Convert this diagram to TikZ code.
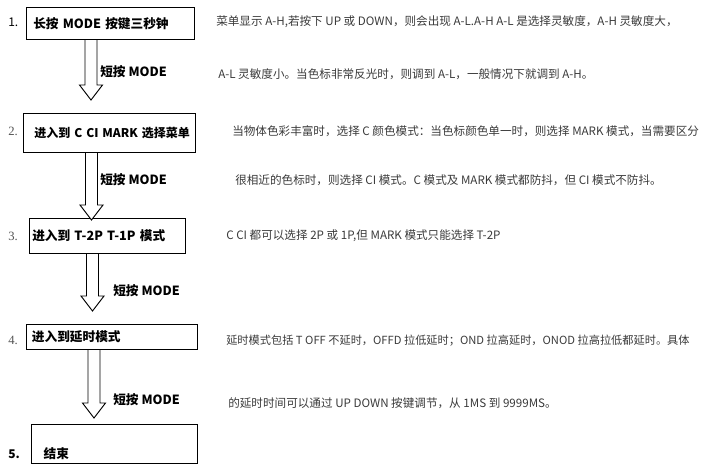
\documentclass[tikz,border=0pt]{standalone}
\usepackage{fontspec}
\setmainfont{Noto Sans CJK SC}
\newfontfamily\numserif{Liberation Serif}
\usetikzlibrary{calc}

\definecolor{NoteGray}{HTML}{3a3a3a}
\definecolor{NumGray}{HTML}{555555}
\tikzstyle{step-box}=[draw, line width=0.9pt, anchor=north west, inner ysep=2pt, align=left, font=\fontsize{9.5pt}{11pt}\selectfont\bfseries]
\tikzstyle{step-num}=[anchor=west, inner sep=0pt, font=\fontsize{9pt}{10pt}\selectfont]
\tikzstyle{step-num-serif}=[anchor=west, inner sep=0pt, text=NumGray, font=\fontsize{9.5pt}{10pt}\selectfont\numserif]
\tikzstyle{press-label}=[anchor=west, inner sep=0pt, font=\fontsize{9.5pt}{11pt}\selectfont\bfseries]
\tikzstyle{step-note}=[anchor=west, inner sep=0pt, text=NoteGray, font=\fontsize{8.7pt}{10pt}\selectfont]
\tikzstyle{hollow-arrow}=[draw, line width=0.7pt, fill=white]

% hollow block arrow from a box edge (#1) down to a tip (#2)
\newcommand{\pressarrow}[2]{%
  \draw[hollow-arrow] ($(#1)+(-6,0)$) -- ($(#2)+(-6,-15)$) -- ($(#2)+(-11.5,-15)$) -- (#2)
    -- ($(#2)+(11.5,-15)$) -- ($(#2)+(6,-15)$) -- ($(#1)+(6,0)$);}

\begin{document}
\begin{tikzpicture}[x=0.75pt, y=-0.75pt]
  \useasboundingbox (0,0) rectangle (704,472);

  % steps
  \node (box-hold) at (26,7)
        [step-box, minimum height=24pt, inner xsep=5pt, text width=116pt] {\mbox{长按 MODE 按键三秒钟}};
  \node (box-menu) at (23,113)
        [step-box, minimum height=29.25pt, inner xsep=8pt, text width=113pt,
         font=\fontsize{9pt}{11pt}\selectfont\bfseries] {\mbox{进入到 C CI MARK 选择菜单}};
  \node (box-tmode) at (29,218)
        [step-box, minimum height=26.25pt, inner xsep=2pt, text width=113pt] {\mbox{进入到 T-2P T-1P 模式}};
  \node (box-delay) at (26,324)
        [step-box, minimum height=18.75pt, inner xsep=4pt, text width=120.25pt] {\mbox{进入到延时模式}};
  \node (box-end) at (31,424)
        [step-box, minimum height=29.25pt, inner xsep=9pt, text width=106.5pt, text height=22pt] {结束};

  % step numbers
  \node (num-1) at (8,22)  [step-num] {1.};
  \node (num-2) at (8,131) [step-num-serif] {2.};
  \node (num-3) at (8,236) [step-num-serif] {3.};
  \node (num-4) at (8,340) [step-num-serif] {4.};
  \node (num-5) at (8,454) [step-num, font=\fontsize{9pt}{10pt}\selectfont\bfseries] {5.};

  % arrows
  \coordinate (tip-1) at (91,100);
  \coordinate (tip-2) at (91.5,220);
  \coordinate (tip-3) at (92.5,311);
  \coordinate (tip-4) at (94,418);
  \coordinate (from-1) at (box-hold.south -| tip-1);
  \coordinate (from-2) at (box-menu.south -| tip-2);
  \coordinate (from-3) at (box-tmode.south -| tip-3);
  \coordinate (from-4) at (box-delay.south -| tip-4);
  \pressarrow{from-1}{tip-1}
  \pressarrow{from-2}{tip-2}
  \pressarrow{from-3}{tip-3}
  \pressarrow{from-4}{tip-4}

  \node (press-1) at (100,72)  [press-label] {短按 MODE};
  \node (press-2) at (100,180) [press-label] {短按 MODE};
  \node (press-3) at (113,291) [press-label] {短按 MODE};
  \node (press-4) at (113,400) [press-label] {短按 MODE};

  % notes
  \node (note-hold-a) at (216,22)   [step-note] {菜单显示 A-H,若按下 UP 或 DOWN，则会出现 A-L.A-H A-L 是选择灵敏度，A-H 灵敏度大，};
  \node (note-hold-b) at (218,74)   [step-note] {A-L 灵敏度小。当色标非常反光时，则调到 A-L，一般情况下就调到 A-H。};
  \node (note-menu-a) at (232,131)  [step-note] {当物体色彩丰富时，选择 C 颜色模式：当色标颜色单一时，则选择 MARK 模式，当需要区分};
  \node (note-menu-b) at (235,180)  [step-note] {很相近的色标时，则选择 CI 模式。C 模式及 MARK 模式都防抖，但 CI 模式不防抖。};
  \node (note-tmode) at (226,236)   [step-note] {C CI 都可以选择 2P 或 1P,但 MARK 模式只能选择 T-2P};
  \node (note-delay-a) at (226,341) [step-note, font=\fontsize{8.4pt}{10pt}\selectfont] {延时模式包括 T OFF 不延时，OFFD 拉低延时；OND 拉高延时，ONOD 拉高拉低都延时。具体};
  \node (note-delay-b) at (228,403) [step-note] {的延时时间可以通过 UP DOWN 按键调节，从 1MS 到 9999MS。};
\end{tikzpicture}
\end{document}
